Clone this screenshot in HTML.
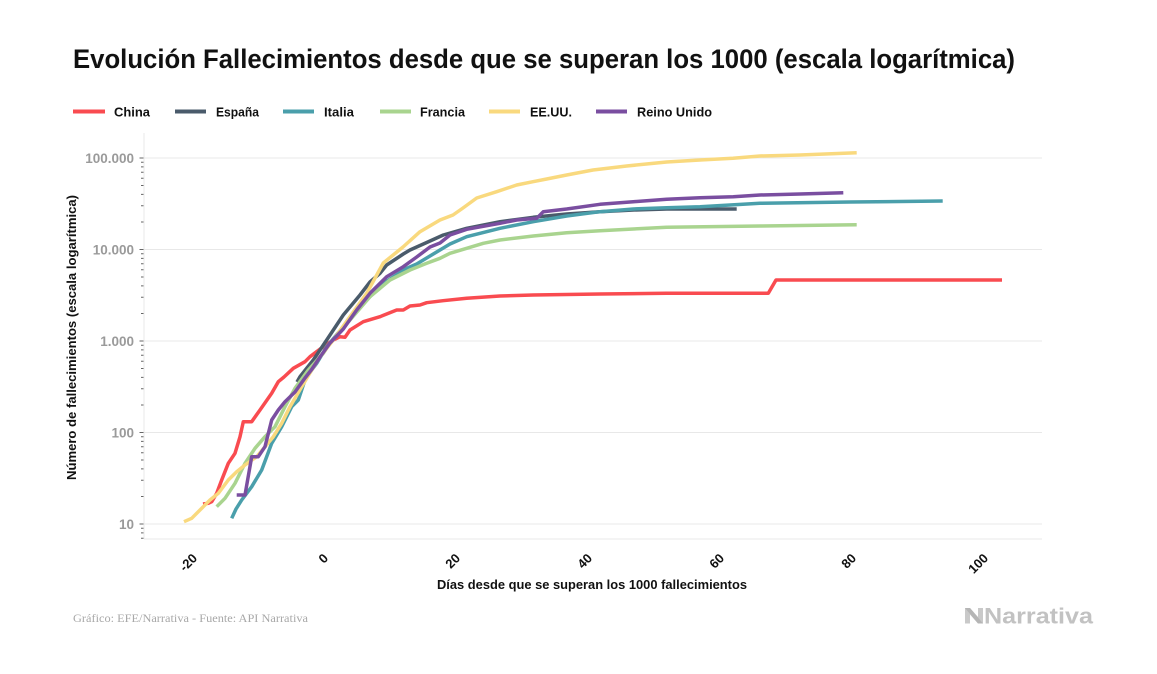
<!DOCTYPE html>
<html>
<head>
<meta charset="utf-8">
<style>
  html, body { margin: 0; padding: 0; background: #ffffff; }
  body { width: 1157px; height: 674px; overflow: hidden; }
  svg { display: block; }
  .sans { font-family: "Liberation Sans", "DejaVu Sans", sans-serif; }
  .serif { font-family: "Liberation Serif", "DejaVu Serif", serif; }
</style>
</head>
<body>
<svg width="1157" height="674" viewBox="0 0 1157 674" xmlns="http://www.w3.org/2000/svg">
  <rect x="0" y="0" width="1157" height="674" fill="#ffffff"/>

  <!-- Title -->
  <text class="sans" x="73" y="68" font-size="27" font-weight="bold" fill="#111" textLength="942" lengthAdjust="spacingAndGlyphs">Evolución Fallecimientos desde que se superan los 1000 (escala logarítmica)</text>

  <!-- Legend -->
  <g stroke-width="4" fill="none">
    <line x1="73" y1="111.5" x2="105" y2="111.5" stroke="#f94b50"/>
    <line x1="175" y1="111.5" x2="206" y2="111.5" stroke="#4a5b6b"/>
    <line x1="283" y1="111.5" x2="314" y2="111.5" stroke="#4a9fab"/>
    <line x1="380" y1="111.5" x2="411" y2="111.5" stroke="#a9d48f"/>
    <line x1="489" y1="111.5" x2="520" y2="111.5" stroke="#f9d97e"/>
    <line x1="596" y1="111.5" x2="627" y2="111.5" stroke="#7a4ea0"/>
  </g>
  <g class="sans" font-size="13" font-weight="bold" fill="#111">
    <text x="114" y="116.5" textLength="36" lengthAdjust="spacingAndGlyphs">China</text>
    <text x="216" y="116.5" textLength="43" lengthAdjust="spacingAndGlyphs">España</text>
    <text x="324" y="116.5" textLength="30" lengthAdjust="spacingAndGlyphs">Italia</text>
    <text x="420" y="116.5" textLength="45" lengthAdjust="spacingAndGlyphs">Francia</text>
    <text x="530" y="116.5" textLength="42" lengthAdjust="spacingAndGlyphs">EE.UU.</text>
    <text x="637" y="116.5" textLength="75" lengthAdjust="spacingAndGlyphs">Reino Unido</text>
  </g>

  <!-- Grid -->
  <g stroke="#e8e8e8" stroke-width="1">
    <line x1="144" y1="158" x2="1042" y2="158"/>
    <line x1="144" y1="249.5" x2="1042" y2="249.5"/>
    <line x1="144" y1="341" x2="1042" y2="341"/>
    <line x1="144" y1="432.5" x2="1042" y2="432.5"/>
    <line x1="144" y1="524" x2="1042" y2="524"/>
    <line x1="144" y1="539" x2="1042" y2="539"/>
    <line x1="144" y1="133" x2="144" y2="539"/>
  </g>

  <!-- Minor/major ticks -->
  <path stroke="#666" stroke-width="1" fill="none" d="
    M139.5 158H143.5 M139.5 249.5H143.5 M139.5 341H143.5 M139.5 432.5H143.5 M139.5 524H143.5
    M141 496.5H143.5 M141 480.3H143.5 M141 468.9H143.5 M141 460H143.5 M141 452.8H143.5 M141 446.7H143.5 M141 441.4H143.5 M141 436.7H143.5
    M141 405H143.5 M141 388.8H143.5 M141 377.4H143.5 M141 368.5H143.5 M141 361.3H143.5 M141 355.2H143.5 M141 349.9H143.5 M141 345.2H143.5
    M141 313.5H143.5 M141 297.3H143.5 M141 285.9H143.5 M141 277H143.5 M141 269.8H143.5 M141 263.7H143.5 M141 258.4H143.5 M141 253.7H143.5
    M141 222H143.5 M141 205.8H143.5 M141 194.4H143.5 M141 185.5H143.5 M141 178.3H143.5 M141 172.2H143.5 M141 166.9H143.5 M141 162.2H143.5
    M141 528.2H143.5 M141 532.9H143.5 M141 538.2H143.5"/>

  <!-- Y tick labels -->
  <g class="sans" font-size="13.5" font-weight="bold" fill="#9a9a9a" text-anchor="end">
    <text x="134" y="163">100.000</text>
    <text x="134" y="254.5">10.000</text>
    <text x="134" y="346">1.000</text>
    <text x="134" y="437.5">100</text>
    <text x="134" y="529">10</text>
  </g>

  <!-- Y axis title -->
  <text class="sans" font-size="13" font-weight="bold" fill="#111" text-anchor="middle" transform="translate(76,337.5) rotate(-90)" textLength="285" lengthAdjust="spacingAndGlyphs">Número de fallecimientos (escala logarítmica)</text>

  <!-- X tick labels (rotated) -->
  <g class="sans" font-size="13" font-weight="bold" fill="#111" text-anchor="end">
    <text transform="translate(198,559) rotate(-45)">-20</text>
    <text transform="translate(329,559) rotate(-45)">0</text>
    <text transform="translate(461,559) rotate(-45)">20</text>
    <text transform="translate(593,559) rotate(-45)">40</text>
    <text transform="translate(725,559) rotate(-45)">60</text>
    <text transform="translate(857,559) rotate(-45)">80</text>
    <text transform="translate(989,559) rotate(-45)">100</text>
  </g>

  <!-- X axis title -->
  <text class="sans" x="592" y="589" font-size="13" font-weight="bold" fill="#111" text-anchor="middle" textLength="310" lengthAdjust="spacingAndGlyphs">Días desde que se superan los 1000 fallecimientos</text>

  <!-- Series -->
  <g fill="none" stroke-width="3.5" stroke-linejoin="round" stroke-linecap="butt">
    <!-- China -->
    <polyline stroke="#f94b50" points="203,504 208.3,503.3 211.7,501.7 216.7,493.3 221.7,480 228.3,463.3 235,453.3 240,436.7 243.3,421.7 251.7,421.7 260,410 271.7,393.3 278.3,381.7 284,377 293.3,368.3 305,361.7 310,356.7 323.3,346.7 333.3,340 340,336.7 345,337.3 350,330 363.3,321.7 380,316.7 396.7,310 403.3,310 410,306 420,305 426.7,302.7 443,300.7 466.7,298.3 500,296 533,295 600,294 666.7,293.3 768.3,293.3 776,280 1002,280"/>
    <!-- España -->
    <polyline stroke="#4a5b6b" points="297,382 300,376.7 313.3,360 326.7,340 343.3,315 360,295 370,282 380,273.3 386.7,265 403.3,254 410,250 426.7,242.5 443.3,235 466.7,228.3 500,221.7 533.3,217.3 566.7,214 600,211.7 633.3,210 666.7,209 736.7,209"/>
    <!-- Italia -->
    <polyline stroke="#4a9fab" points="231.7,518.3 236,509 241.7,500 246.7,493.3 251.7,486.7 261.7,470 271.7,443.3 281.7,426.7 291.7,406.7 298.3,400 305,380 311.7,370 316.7,363.3 326.7,346.7 343.3,326.7 363.3,303.3 383.3,283.3 406.7,268.3 416.7,264 433.3,254 450,244 466.7,236.7 500,228.3 533.3,221.7 566.7,216 600,211.7 633.3,209 666.7,207.7 700,206.7 760,203.3 850,202 942.7,201"/>
    <!-- Francia -->
    <polyline stroke="#a9d48f" points="216.7,506.7 225,498.3 235,483.3 245,463.3 255,448.3 265,436.7 275,426.7 285,406.7 295,388.3 308.3,370 323.3,353.3 330,343.3 350,320 370,296.7 390,280 410,270 426.7,263.3 440,258.3 450,253.3 466.7,248.3 483.3,243.3 500,240 533.3,236 566.7,232.7 600,230.7 633.3,229 666.7,227.3 760,226 856.7,224.7"/>
    <!-- EE.UU. -->
    <polyline stroke="#f9d97e" points="184,521.7 191.7,518.3 203.3,506.7 210,500 218.3,493.3 228.3,480 236.7,471.7 245,465 256.7,456.7 265,446.7 273.3,436.7 281.7,423.3 290,406.7 301.7,386.7 311.7,370 320,356.7 333.3,340 350,316.7 366.7,293.3 383.3,263 403,247 420,231.7 440,220 453,215 463,208 476.7,198 496.7,191.7 516.7,185 533,181.7 546.7,179 566.7,175 593,170 626.7,166 666.7,162 700,160 733,158.3 760,156 800,155 856.7,152.7"/>
    <!-- Reino Unido -->
    <polyline stroke="#7a4ea0" points="236.7,495 245,495 251.7,456.7 258.3,456.7 265,446.7 271.7,420 278.3,410 285,401.7 295,392 305,378 312,369 320,357 330,343 343.3,329 356.7,310 370,293.3 386.7,276.7 403.3,266.7 416.7,257 430,247 440,243 450,235 466.7,229.3 500,223.3 516.7,220 536.7,218.3 543.3,211.7 566.7,209 600,204.3 633.3,201.7 666.7,199.3 700,197.7 733.3,196.7 760,195 800,194 843.3,192.7"/>
  </g>

  <!-- Footer -->
  <text class="serif" x="73" y="622" font-size="12" fill="#a8a8a8" textLength="235" lengthAdjust="spacingAndGlyphs">Gráfico: EFE/Narrativa - Fuente: API Narrativa</text>

  <!-- Logo -->
  <g>
    <polygon points="965,608 970,608 978,617 978,608 983,608 983,623.5 978,623.5 970,614.5 970,623.5 965,623.5" fill="#c9c9c9"/>
    <polygon points="965,608 970,608 983,623.5 978,623.5" fill="#b5b5b5"/>
  </g>
  <text class="sans" x="984" y="623.5" font-size="22" font-weight="bold" fill="#c2c2c2" textLength="109" lengthAdjust="spacingAndGlyphs">Narrativa</text>
</svg>
</body>
</html>
